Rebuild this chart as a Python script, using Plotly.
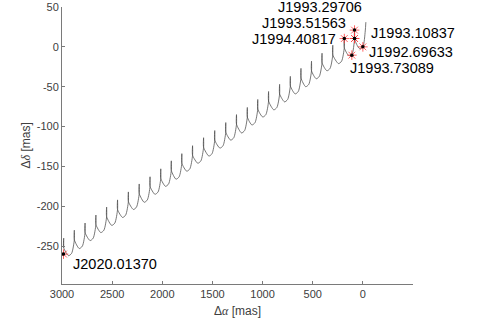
import plotly.graph_objects as go

# Track (Δα, Δδ in mas): per-year spike (cusp), post-spike drop and trough points
spike_x    = [83, 185, 300, 407, 512, 617, 723, 830, 940, 1048, 1152, 1260, 1367, 1477, 1588, 1698, 1805, 1910, 2015, 2122, 2230, 2338, 2446, 2555, 2662, 2770, 2877, 2983]
spike_top  = [21, 11, 2, -8, -18, -27, -37, -47, -56, -66, -76, -85, -95, -105, -114, -124, -134, -143, -153, -163, -172, -182, -192, -201, -211, -221, -230, -240]
spike_base = [10, -1, -10, -20, -30, -39, -49, -59, -68, -78, -88, -97, -107, -117, -126, -136, -146, -155, -165, -175, -184, -194, -204, -213, -223, -233, -242, -252]
drop_x     = [110, 212, 327, 434, 539, 644, 750, 857, 967, 1075, 1179, 1287, 1394, 1504, 1615, 1725, 1832, 1937, 2042, 2149, 2257, 2365, 2473, 2582, 2689, 2797, 2904]
drop_y     = [-10, -18, -27, -37, -47, -56, -66, -76, -85, -95, -105, -114, -124, -134, -143, -153, -163, -172, -182, -192, -201, -211, -221, -230, -240, -250, -259]
trough_x   = [141, 243, 358, 465, 570, 675, 781, 888, 998, 1106, 1210, 1318, 1425, 1535, 1646, 1756, 1863, 1968, 2073, 2180, 2288, 2396, 2504, 2613, 2720, 2828, 2935]
trough_y   = [-11, -21, -30, -40, -50, -59, -69, -79, -88, -98, -108, -117, -127, -137, -146, -156, -166, -175, -185, -195, -204, -214, -224, -233, -243, -253, -262]
lead_x = [-30, -24, 0, 35]
lead_y = [31, 20, 0, -2]

ep_labels = ["J1992.69633", "J1993.10837", "J1993.29706", "J1993.51563", "J1993.73089", "J1994.40817", "J2020.01370"]
ep_x = [0, 83, 83, 83, 110, 185, 2985]
ep_y = [0, 10.5, 21, 10.5, -10.4, 10.4, -260]

# assemble the track in time order
tx, ty = list(lead_x), list(lead_y)
for k in range(len(spike_x)):
    tx += [spike_x[k], spike_x[k], spike_x[k]]
    ty += [spike_base[k], spike_top[k], spike_base[k]]
    if k < len(trough_x):
        tx += [drop_x[k], trough_x[k]]
        ty += [drop_y[k], trough_y[k]]

fig = go.Figure()
fig.add_trace(go.Scatter(x=tx, y=ty, mode="lines",
                         line=dict(color="#4a4a4a", width=0.75, shape="spline", smoothing=0.7),
                         hoverinfo="skip"))
fig.add_trace(go.Scatter(x=ep_x, y=ep_y, mode="markers",
                         marker=dict(symbol="asterisk-open", size=8, color="rgba(255,60,60,0.8)",
                                     line=dict(color="rgba(255,60,60,0.8)", width=1))))
fig.add_trace(go.Scatter(x=ep_x, y=ep_y, mode="markers",
                         marker=dict(symbol="circle", size=3.5, color="black")))

# label offsets in pixels (anchor, xshift, yshift)
offs = {
    "J1992.69633": ("left", 5, -5),
    "J1993.10837": ("left", 15, 5),
    "J1993.29706": ("center", -35, 23.5),
    "J1993.51563": ("right", -8, 15),
    "J1993.73089": ("left", -3, -13),
    "J1994.40817": ("right", -7, -0.5),
    "J2020.01370": ("left", 8, -10),
}
for lab, x, y in zip(ep_labels, ep_x, ep_y):
    a, dx, dy = offs[lab]
    fig.add_annotation(x=x, y=y, text=lab, showarrow=False, xanchor=a, yanchor="middle",
                       xshift=dx, yshift=dy, borderpad=0,
                       font=dict(family="Liberation Sans, Arial", size=14.5, color="black"))

axcol = "#7a7a7a"
fig.update_xaxes(range=[3000, -500], tickvals=[3000, 2500, 2000, 1500, 1000, 500, 0],
                 ticks="inside", ticklen=3, tickcolor=axcol, showline=True, linecolor=axcol,
                 linewidth=1, showgrid=False, zeroline=False, mirror=False, automargin=False,
                 tickfont=dict(family="Liberation Sans, Arial", size=11, color="#404040"))
fig.update_yaxes(range=[-297.5, 50], tickvals=[50, 0, -50, -100, -150, -200, -250],
                 ticktext=["50", "0", "-50", "-100", "-150", "-200", "-250"],
                 ticks="inside", ticklen=3, tickcolor=axcol, showline=True, linecolor=axcol,
                 linewidth=1, showgrid=False, zeroline=False, mirror=False, automargin=False,
                 tickfont=dict(family="Liberation Sans, Arial", size=11, color="#404040"))

fig.add_annotation(xref="paper", yref="paper", x=0.5, y=0, yanchor="middle", yshift=-27,
                   text="Δ<span style=\"font-family:'Liberation Serif';font-style:italic\">α</span> [mas]",
                   showarrow=False, font=dict(family="Liberation Sans, Arial", size=12, color="#404040"))
fig.add_annotation(xref="paper", yref="paper", x=0, y=0.5, xanchor="center", xshift=-37,
                   textangle=-90,
                   text="Δ<span style=\"font-family:'Liberation Serif';font-style:italic\">δ</span> [mas]",
                   showarrow=False, font=dict(family="Liberation Sans, Arial", size=12, color="#404040"))

fig.update_layout(width=481, height=325, margin=dict(l=62, r=68, t=7, b=41, autoexpand=False),
                  plot_bgcolor="white", paper_bgcolor="white", showlegend=False)
fig.write_html("out.html", config={"displayModeBar": False, "staticPlot": True},
               post_script="document.body.style.margin='0';document.body.style.overflow='hidden';")
